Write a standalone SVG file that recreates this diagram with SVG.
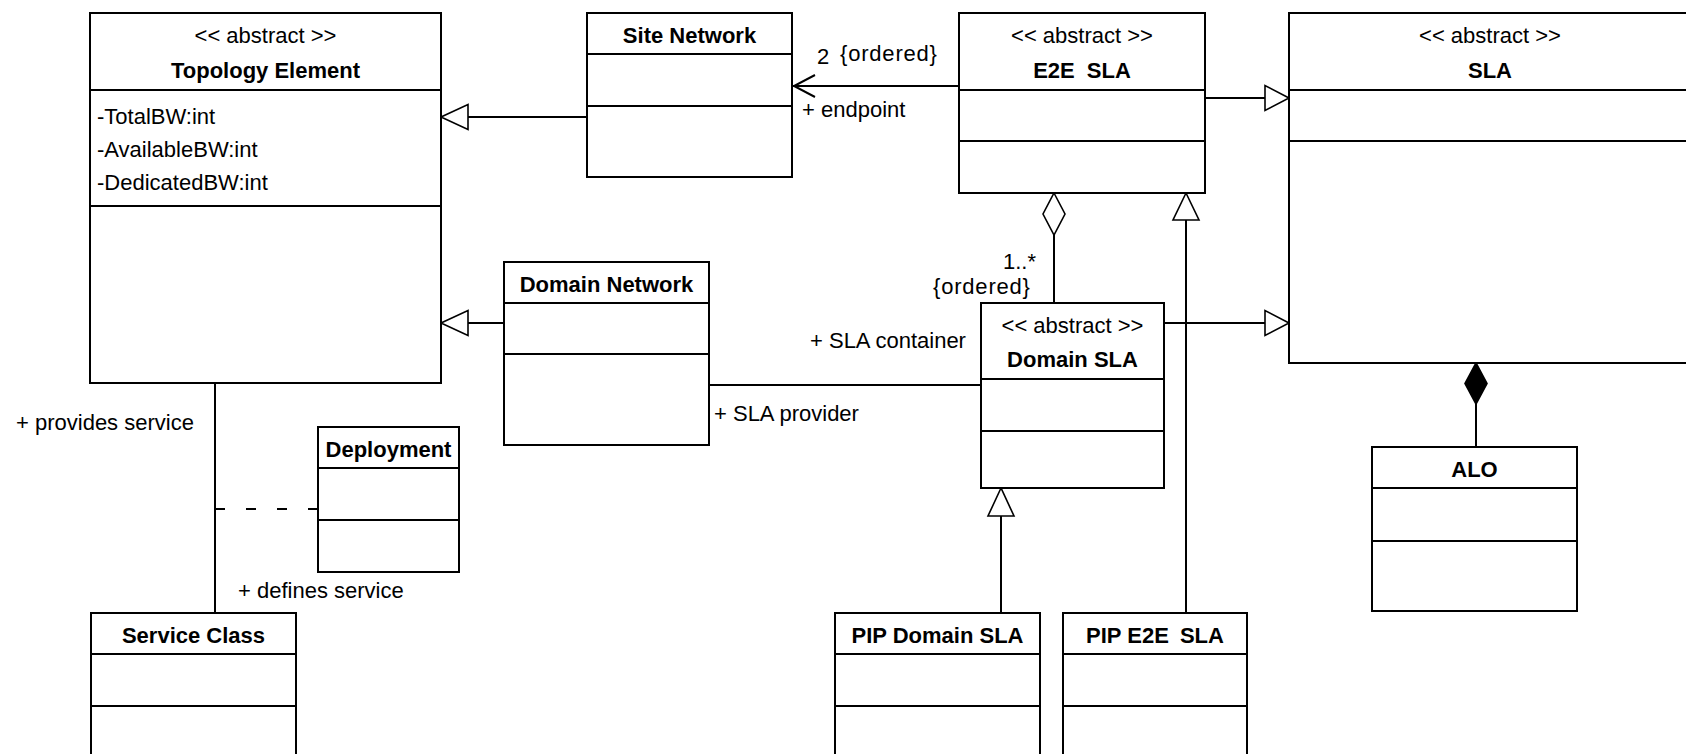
<svg xmlns="http://www.w3.org/2000/svg" width="1686" height="754" viewBox="0 0 1686 754">
  <style>
    .box { fill: #ffffff; stroke: #000000; stroke-width: 2; }
    .sep { stroke: #000000; stroke-width: 2; }
    .edge { fill: none; stroke: #000000; stroke-width: 2; }
    .dash { fill: none; stroke: #000000; stroke-width: 2; stroke-dasharray: 10 21; }
    .tri { fill: #ffffff; stroke: #000000; stroke-width: 1.6; stroke-linejoin: miter; }
    .odiam { fill: #ffffff; stroke: #000000; stroke-width: 1.6; }
    .fdiam { fill: #000000; stroke: #000000; stroke-width: 1.6; }
    text { font-family: "Liberation Sans", Arial, sans-serif; font-size: 22px; fill: #000000; }
    .name { font-weight: bold; text-anchor: middle; }
    .stereo { text-anchor: middle; }
    .brace { letter-spacing: 0.8px; }
  </style>
  <rect width="1686" height="754" fill="#ffffff"/>

  <!-- connectors -->
  <g id="connectors">
    <!-- Site Network generalizes Topology Element -->
    <line class="edge" x1="468" y1="117" x2="587" y2="117"/>
    <polygon class="tri" points="441,117 468,104.5 468,129.5"/>
    <!-- Domain Network generalizes Topology Element -->
    <line class="edge" x1="468" y1="323" x2="504" y2="323"/>
    <polygon class="tri" points="441,323 468,310.5 468,335.5"/>
    <!-- E2E SLA navigates to Site Network endpoints -->
    <line class="edge" x1="793" y1="86" x2="959" y2="86"/>
    <polyline class="edge" points="815,75 794,86 815,97"/>
    <!-- E2E SLA generalizes SLA -->
    <line class="edge" x1="1205" y1="98" x2="1265" y2="98"/>
    <polygon class="tri" points="1289,98 1265,85.5 1265,110.5"/>
    <!-- Domain SLA generalizes SLA -->
    <line class="edge" x1="1164" y1="323" x2="1265" y2="323"/>
    <polygon class="tri" points="1289,323 1265,310.5 1265,335.5"/>
    <!-- PIP E2E SLA generalizes E2E SLA -->
    <line class="edge" x1="1186" y1="220" x2="1186" y2="613"/>
    <polygon class="tri" points="1186,193 1173,220 1199,220"/>
    <!-- E2E SLA aggregates Domain SLA -->
    <polygon class="odiam" points="1054,193 1065,214 1054,235 1043,214"/>
    <line class="edge" x1="1054" y1="235" x2="1054" y2="303"/>
    <!-- Domain Network / Domain SLA association -->
    <line class="edge" x1="709" y1="385" x2="981" y2="385"/>
    <!-- PIP Domain SLA generalizes Domain SLA -->
    <line class="edge" x1="1001" y1="516" x2="1001" y2="613"/>
    <polygon class="tri" points="1001,488 988,516 1014,516"/>
    <!-- SLA composed of ALO -->
    <polygon class="fdiam" points="1476,363 1487,383.5 1476,404 1465,383.5"/>
    <line class="edge" x1="1476" y1="404" x2="1476" y2="447"/>
    <!-- Topology Element / Service Class association with Deployment class -->
    <line class="edge" x1="215" y1="383" x2="215" y2="613"/>
    <line class="dash" x1="318" y1="509" x2="215" y2="509"/>

    <!-- association end labels -->
    <text x="817" y="64">2</text>
    <text class="brace" x="840" y="61">{ordered}</text>
    <text x="802" y="117">+ endpoint</text>
    <text x="1003" y="269">1..*</text>
    <text class="brace" x="933" y="294">{ordered}</text>
    <text x="810" y="348">+ SLA container</text>
    <text x="714" y="421">+ SLA provider</text>
    <text x="16" y="430">+ provides service</text>
    <text x="238" y="598">+ defines service</text>
  </g>

  <g id="topology-element">
    <rect class="box" x="90" y="13" width="351" height="370"/>
    <line class="sep" x1="90" y1="90" x2="441" y2="90"/>
    <line class="sep" x1="90" y1="206" x2="441" y2="206"/>
    <text class="stereo" x="265.5" y="43">&lt;&lt; abstract &gt;&gt;</text>
    <text class="name" x="265.5" y="78">Topology Element</text>
    <text x="97" y="124">-TotalBW:int</text>
    <text x="97" y="157">-AvailableBW:int</text>
    <text x="97" y="190">-DedicatedBW:int</text>
  </g>

  <g id="site-network">
    <rect class="box" x="587" y="13" width="205" height="164"/>
    <line class="sep" x1="587" y1="54" x2="792" y2="54"/>
    <line class="sep" x1="587" y1="106" x2="792" y2="106"/>
    <text class="name" x="689.5" y="43">Site Network</text>
  </g>

  <g id="e2e-sla">
    <rect class="box" x="959" y="13" width="246" height="180"/>
    <line class="sep" x1="959" y1="90" x2="1205" y2="90"/>
    <line class="sep" x1="959" y1="141" x2="1205" y2="141"/>
    <text class="stereo" x="1082" y="43">&lt;&lt; abstract &gt;&gt;</text>
    <text class="name" x="1082" y="78" word-spacing="6">E2E SLA</text>
  </g>

  <g id="sla">
    <rect class="box" x="1289" y="13" width="420" height="350"/>
    <line class="sep" x1="1289" y1="90" x2="1709" y2="90"/>
    <line class="sep" x1="1289" y1="141" x2="1709" y2="141"/>
    <text class="stereo" x="1490" y="43">&lt;&lt; abstract &gt;&gt;</text>
    <text class="name" x="1490" y="78">SLA</text>
  </g>

  <g id="domain-network">
    <rect class="box" x="504" y="262" width="205" height="183"/>
    <line class="sep" x1="504" y1="303" x2="709" y2="303"/>
    <line class="sep" x1="504" y1="354" x2="709" y2="354"/>
    <text class="name" x="606.5" y="292">Domain Network</text>
  </g>

  <g id="domain-sla">
    <rect class="box" x="981" y="303" width="183" height="185"/>
    <line class="sep" x1="981" y1="379" x2="1164" y2="379"/>
    <line class="sep" x1="981" y1="431" x2="1164" y2="431"/>
    <text class="stereo" x="1072.5" y="333">&lt;&lt; abstract &gt;&gt;</text>
    <text class="name" x="1072.5" y="367">Domain SLA</text>
  </g>

  <g id="deployment">
    <rect class="box" x="318" y="427" width="141" height="145"/>
    <line class="sep" x1="318" y1="468" x2="459" y2="468"/>
    <line class="sep" x1="318" y1="520" x2="459" y2="520"/>
    <text class="name" x="388.5" y="457">Deployment</text>
  </g>

  <g id="service-class">
    <rect class="box" x="91" y="613" width="205" height="160"/>
    <line class="sep" x1="91" y1="654" x2="296" y2="654"/>
    <line class="sep" x1="91" y1="706" x2="296" y2="706"/>
    <text class="name" x="193.5" y="643">Service Class</text>
  </g>

  <g id="pip-domain-sla">
    <rect class="box" x="835" y="613" width="205" height="160"/>
    <line class="sep" x1="835" y1="654" x2="1040" y2="654"/>
    <line class="sep" x1="835" y1="706" x2="1040" y2="706"/>
    <text class="name" x="937.5" y="643">PIP Domain SLA</text>
  </g>

  <g id="pip-e2e-sla">
    <rect class="box" x="1063" y="613" width="184" height="160"/>
    <line class="sep" x1="1063" y1="654" x2="1247" y2="654"/>
    <line class="sep" x1="1063" y1="706" x2="1247" y2="706"/>
    <text class="name" x="1155" y="643">PIP E2E <tspan dx="5">SLA</tspan></text>
  </g>

  <g id="alo">
    <rect class="box" x="1372" y="447" width="205" height="164"/>
    <line class="sep" x1="1372" y1="488" x2="1577" y2="488"/>
    <line class="sep" x1="1372" y1="541" x2="1577" y2="541"/>
    <text class="name" x="1474.5" y="477">ALO</text>
  </g>
</svg>
